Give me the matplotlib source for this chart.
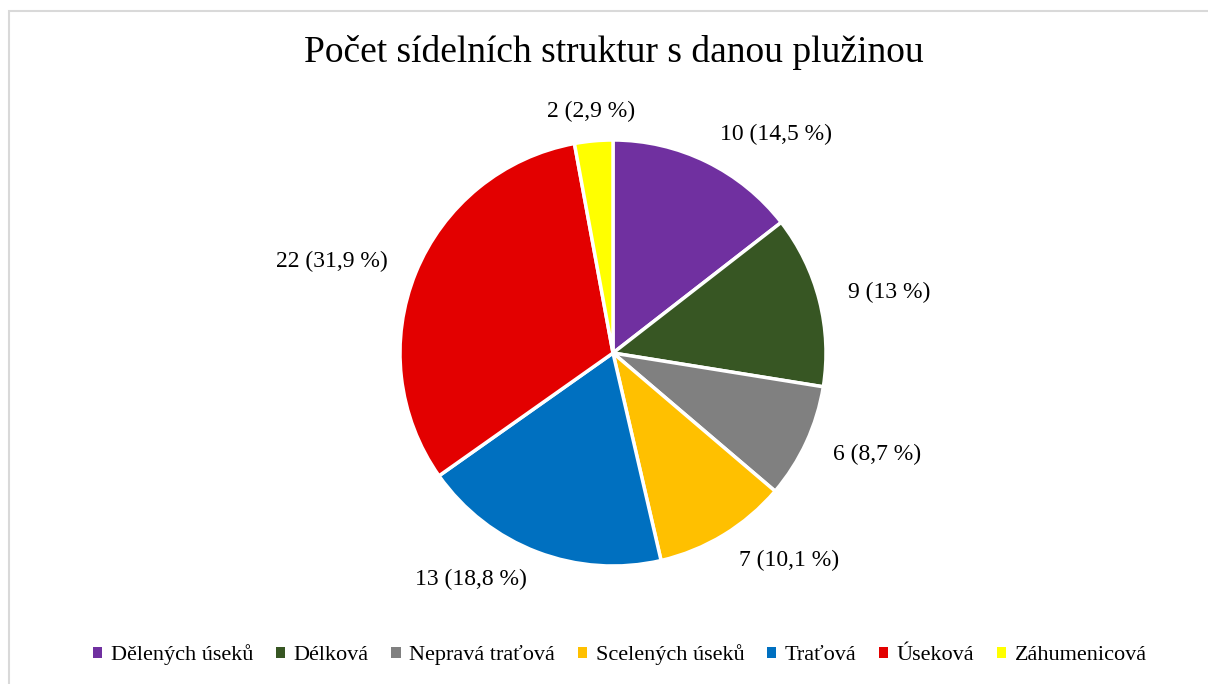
import matplotlib
matplotlib.use("Agg")
import matplotlib.pyplot as plt
from matplotlib.patches import Rectangle

categories = ["Dělených úseků", "Délková", "Nepravá traťová", "Scelených úseků",
              "Traťová", "Úseková", "Záhumenicová"]
values = [10, 9, 6, 7, 13, 22, 2]
label_texts = ["10 (14,5 %)", "9 (13 %)", "6 (8,7 %)", "7 (10,1 %)",
               "13 (18,8 %)", "22 (31,9 %)", "2 (2,9 %)"]
colors = ["#7030A0", "#375623", "#808080", "#FFC000", "#0070C0", "#E30000", "#FFFF00"]
title = "Počet sídelních struktur s danou plužinou"

plt.rcParams['font.family'] = ['Liberation Serif', 'DejaVu Serif']

W, H = 1208, 684
fig = plt.figure(figsize=(W / 100, H / 100), dpi=100)

# border
fig.patches.append(Rectangle((9 / W, -0.1), 1.2, (H - 11) / H + 0.1,
                             transform=fig.transFigure, fill=False,
                             edgecolor="#D9D9D9", linewidth=1.5))

cx, cy, r = 613, H - 353, 213
side = 600
ax = fig.add_axes([(cx - side / 2) / W, (cy - side / 2) / H, side / W, side / H])
wedges, texts = ax.pie(values, colors=colors, startangle=90, counterclock=False,
                       labels=label_texts, labeldistance=1.14,
                       wedgeprops=dict(edgecolor="white", linewidth=2.5),
                       textprops=dict(fontsize=17, color="#000000"))
texts[-1].set_ha("center")
lim = (side / 2) / r
ax.set_xlim(-lim, lim)
ax.set_ylim(-lim, lim)
ax.set_aspect("equal")
ax.axis("off")

fig.text(614 / W, 1 - 52 / H, title, ha="center", va="center", fontsize=27)

leg = fig.legend(wedges, categories, loc="center", bbox_to_anchor=(620 / W, 1 - 655 / H),
                 ncol=7, frameon=False, fontsize=16, handlelength=0.42, handleheight=0.42,
                 handletextpad=0.4, columnspacing=1.0)
for h in leg.legend_handles:
    h.set_edgecolor("none")

fig.savefig("out.png", dpi=100)
